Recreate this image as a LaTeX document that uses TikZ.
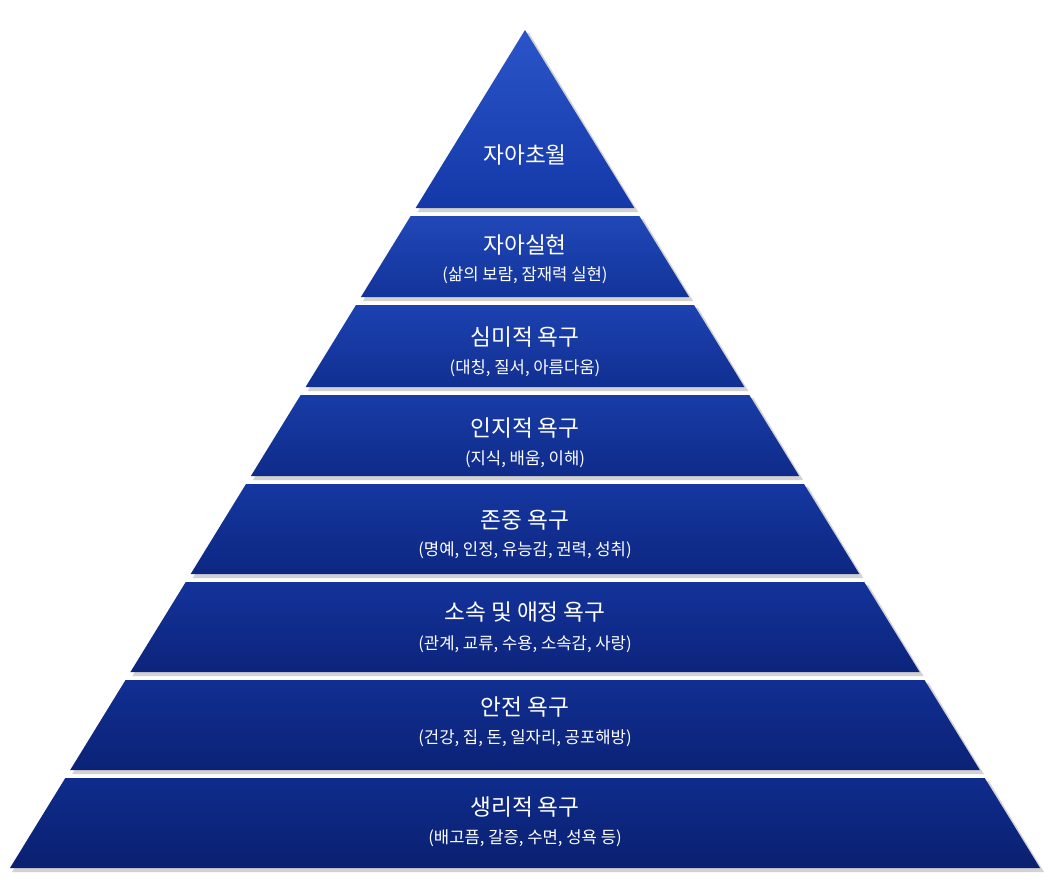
\documentclass[tikz,border=0pt]{standalone}
\usepackage{fontspec}
\newfontfamily\kr{Noto Sans CJK KR}
\begin{document}
\begin{tikzpicture}[x=0.75pt,y=-0.75pt,
  ttl/.style={text=white,font=\kr\fontsize{17}{20}\selectfont},
  sub/.style={text=white,font=\kr\fontsize{12.5}{15}\selectfont},
  shadowc/.style={fill=black!35}]
\useasboundingbox (0,0) rectangle (1050,889);
\def\k{0.6146}
\foreach \t/\b/\ca/\cb in {30/208/2A55C8/1438A8, 216/297/2148B8/123399, 305/387/1C42B0/112F92, 395/476/183CA6/0F2B8A, 484/574/1537A0/0D2782, 582/672/13339A/0C247C, 680/770/112F92/0B2276, 778/868/0F2C8C/0A2070}{
  \pgfmathsetmacro\wt{(\t-30)*\k}
  \pgfmathsetmacro\wb{(\b-30)*\k}
  \fill[shadowc,opacity=0.5] ({525-\wt+2},\t+3) -- ({525+\wt+4},\t+3) -- ({525+\wb+4},\b+4) -- ({525-\wb+2},\b+4) -- cycle;
  \definecolor{lt}{HTML}{\ca}\definecolor{dk}{HTML}{\cb}
  \shade[top color=lt,bottom color=dk] ({525-\wt},\t) -- ({525+\wt},\t) -- ({525+\wb},\b) -- ({525-\wb},\b) -- cycle;
}
\node[ttl] (l1) at (525,155) {자아초월};
\node[ttl] (l2) at (525,245) {자아실현};
\node[sub] (s2) at (525,275) {(삶의 보람, 잠재력 실현)};
\node[ttl] (l3) at (525,337) {심미적 욕구};
\node[sub] (s3) at (525,368) {(대칭, 질서, 아름다움)};
\node[ttl] (l4) at (525,428) {인지적 욕구};
\node[sub] (s4) at (525,459) {(지식, 배움, 이해)};
\node[ttl] (l5) at (525,520) {존중 욕구};
\node[sub] (s5) at (525,550) {(명예, 인정, 유능감, 권력, 성취)};
\node[ttl] (l6) at (525,612) {소속 및 애정 욕구};
\node[sub] (s6) at (525,644) {(관계, 교류, 수용, 소속감, 사랑)};
\node[ttl] (l7) at (525,707) {안전 욕구};
\node[sub] (s7) at (525,738) {(건강, 집, 돈, 일자리, 공포해방)};
\node[ttl] (l8) at (525,807) {생리적 욕구};
\node[sub] (s8) at (525,838) {(배고픔, 갈증, 수면, 성욕 등)};
\end{tikzpicture}
\end{document}
